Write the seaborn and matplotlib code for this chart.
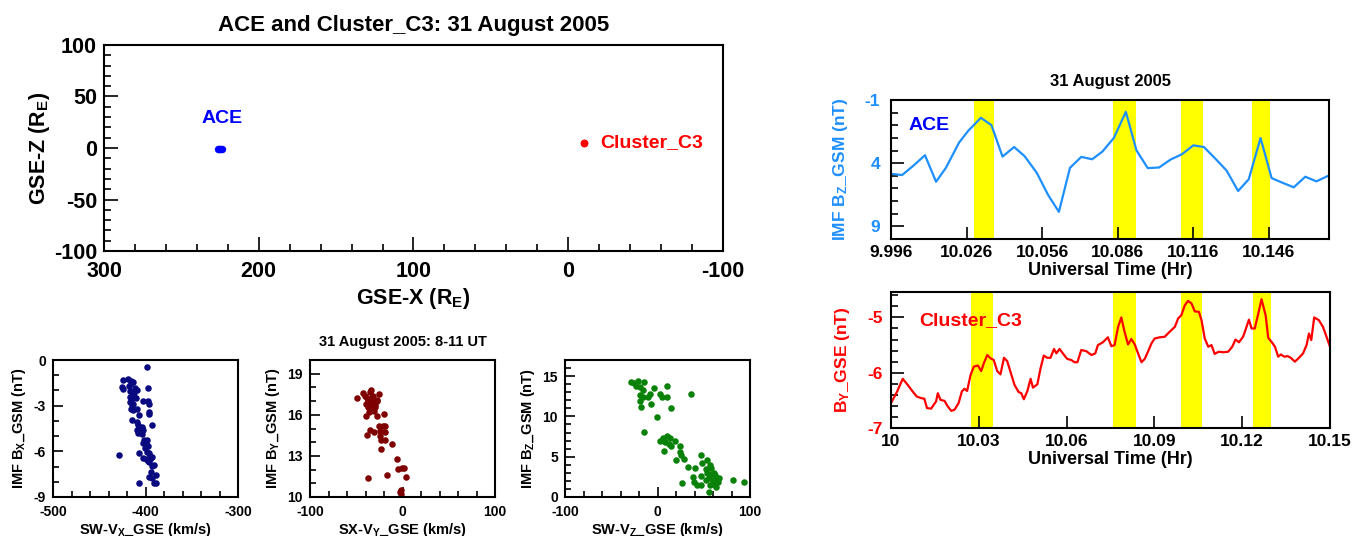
import numpy as np
import pandas as pd
import matplotlib
matplotlib.use("Agg")
import matplotlib.pyplot as plt
from matplotlib.ticker import MultipleLocator, FixedLocator, FixedFormatter
import seaborn as sns

# ---------------------------------------------------------------- data
# Spacecraft positions (GSE, Earth radii)
ace_x = [226.6, 226.0, 225.4, 224.8, 224.1, 223.5]
ace_z = [-0.9, -1.0, -1.0, -1.1, -1.1, -1.2]
c3_x = [-10.0, -10.4]
c3_z = [5.3, 5.0]

# ACE IMF Bz (GSM), 16-s samples
ace_time = [9.9960, 10.0004, 10.0050, 10.0095, 10.0139, 10.0178, 10.0231, 10.0268,
            10.0317, 10.0359, 10.0403, 10.0449, 10.0491, 10.0539, 10.0584, 10.0627,
            10.0671, 10.0716, 10.0759, 10.0800, 10.0845, 10.0893, 10.0935, 10.0980,
            10.1025, 10.1071, 10.1116, 10.1161, 10.1203, 10.1247, 10.1293, 10.1339,
            10.1381, 10.1428, 10.1472, 10.1514, 10.1560, 10.1606, 10.1650, 10.1700]
ace_bz = [4.84, 4.94, 4.18, 3.37, 5.47, 4.37, 2.35, 1.41, 0.41, 0.99,
          3.48, 2.72, 3.45, 4.76, 6.51, 7.85, 4.37, 3.50, 3.69, 3.08,
          2.01, -0.06, 2.98, 4.39, 4.34, 3.71, 3.29, 2.59, 2.72, 3.61,
          4.58, 6.20, 5.28, 2.01, 5.18, 5.54, 5.91, 5.07, 5.44, 4.97]

# Cluster C3 By (GSE)
c3_time = [10.0000, 10.0021, 10.0040, 10.0057, 10.0074, 10.0088, 10.0103, 10.0114,
           10.0123, 10.0137, 10.0146, 10.0154, 10.0160, 10.0169, 10.0183, 10.0194,
           10.0206, 10.0217, 10.0231, 10.0242, 10.0251, 10.0260, 10.0272, 10.0283,
           10.0297, 10.0308, 10.0317, 10.0329, 10.0340, 10.0351, 10.0363, 10.0374,
           10.0386, 10.0397, 10.0408, 10.0422, 10.0436, 10.0445, 10.0454, 10.0466,
           10.0477, 10.0485, 10.0500, 10.0511, 10.0522, 10.0534, 10.0545, 10.0557,
           10.0565, 10.0576, 10.0587, 10.0602, 10.0616, 10.0627, 10.0637, 10.0650,
           10.0667, 10.0685, 10.0698, 10.0707, 10.0724, 10.0741, 10.0753, 10.0764,
           10.0776, 10.0787, 10.0798, 10.0810, 10.0821, 10.0833, 10.0844, 10.0856,
           10.0867, 10.0878, 10.0890, 10.0901, 10.0918, 10.0935, 10.0952, 10.0970,
           10.0981, 10.0992, 10.1004, 10.1015, 10.1027, 10.1038, 10.1052, 10.1061,
           10.1072, 10.1084, 10.1095, 10.1106, 10.1120, 10.1135, 10.1152, 10.1166,
           10.1177, 10.1189, 10.1203, 10.1211, 10.1223, 10.1232, 10.1243, 10.1255,
           10.1266, 10.1280, 10.1289, 10.1300, 10.1312, 10.1323, 10.1332, 10.1344,
           10.1355, 10.1366, 10.1380, 10.1394, 10.1408, 10.1420, 10.1428, 10.1436,
           10.1446, 10.1462, 10.1476, 10.1488, 10.1500]
c3_by = [-6.55, -6.34, -6.11, -6.22, -6.34, -6.43, -6.46, -6.47,
         -6.64, -6.65, -6.58, -6.52, -6.37, -6.49, -6.51, -6.61,
         -6.69, -6.67, -6.55, -6.34, -6.29, -6.33, -6.04, -5.89,
         -5.87, -5.97, -5.83, -5.68, -5.74, -5.77, -5.97, -6.03,
         -5.73, -5.79, -5.98, -6.22, -6.35, -6.37, -6.48, -6.33,
         -6.11, -6.27, -6.21, -5.92, -5.69, -5.73, -5.73, -5.57,
         -5.65, -5.57, -5.65, -5.75, -5.77, -5.81, -5.81, -5.59,
         -5.61, -5.68, -5.65, -5.50, -5.45, -5.36, -5.52, -5.50,
         -5.17, -5.00, -5.26, -5.49, -5.39, -5.49, -5.65, -5.81,
         -5.75, -5.62, -5.47, -5.38, -5.36, -5.35, -5.26, -5.17,
         -5.02, -4.96, -4.78, -4.70, -4.75, -4.89, -4.90, -5.05,
         -5.38, -5.53, -5.50, -5.66, -5.62, -5.63, -5.62, -5.53,
         -5.40, -5.45, -5.35, -5.23, -5.04, -5.20, -5.20, -4.93,
         -4.67, -4.96, -5.37, -5.44, -5.53, -5.71, -5.67, -5.71,
         -5.70, -5.73, -5.80, -5.73, -5.65, -5.50, -5.29, -5.41,
         -5.00, -5.05, -5.17, -5.35, -5.53]

# highlighted intervals (start, end) in UT hours
ace_bands = [(10.0289, 10.0370), (10.0842, 10.0934), (10.1113, 10.1199), (10.1396, 10.1466)]
c3_bands = [(10.0275, 10.0347), (10.0757, 10.0837), (10.0990, 10.1064), (10.1237, 10.1297)]

# Solar wind velocity vs IMF, 8-11 UT
sw_vx = [-398.9, -424.6, -418.5, -415.9, -413.0, -425.7, -423.9, -417.4, -411.2, -409.4,
         -397.5, -416.7, -414.9, -412.3, -416.7, -413.8, -410.1, -402.9, -397.5, -396.7,
         -416.7, -414.9, -413.0, -416.0, -413.0, -408.7, -406.5, -395.7, -396.7, -414.1,
         -408.7, -407.6, -393.1, -406.5, -404.0, -408.7, -405.8, -402.9, -407.6, -404.0,
         -401.4, -398.6, -402.2, -399.3, -397.8, -400.4, -398.6, -406.5, -396.7, -428.3,
         -394.9, -393.1, -402.2, -399.3, -397.8, -395.7, -391.3, -393.1, -394.2, -388.4,
         -393.1, -395.7, -391.3, -388.4, -406.5, -416.0, -412.0, -404.0, -399.0, -397.0,
         -395.0]
imf_bx = [-0.48, -1.32, -1.27, -1.36, -1.47, -1.80, -1.91, -1.69, -1.82, -1.97,
          -1.86, -2.04, -2.26, -2.19, -2.41, -2.52, -2.52, -2.68, -2.68, -2.89,
          -2.74, -2.96, -2.92, -3.22, -3.29, -3.22, -3.62, -3.44, -3.55, -3.95,
          -4.06, -4.28, -4.28, -4.50, -4.45, -4.61, -4.71, -4.61, -4.82, -4.89,
          -5.26, -5.26, -5.42, -5.48, -5.64, -5.81, -6.03, -6.14, -6.14, -6.21,
          -6.29, -6.36, -6.47, -6.51, -6.64, -6.73, -6.91, -6.97, -7.39, -7.57,
          -7.74, -7.68, -8.05, -8.05, -8.09, -1.50, -2.40, -4.40, -5.60, -6.60,
          -6.50]

sw_vy = [-49.4, -43.2, -33.8, -34.9, -25.9, -41.0, -38.5, -33.1, -27.7, -36.7,
         -31.3, -39.6, -34.9, -29.5, -37.4, -33.1, -34.9, -31.3, -39.2, -27.7,
         -19.7, -25.1, -21.5, -18.6, -34.9, -30.6, -38.2, -24.1, -19.3, -24.1,
         -23.0, -19.3, -11.4, -23.3, -6.0, -4.9, -0.5, 1.3, -16.8, 4.2,
         -37.8, -1.3, -2.0, -3.1, -37.0, -32.0, -30.0, -36.0, -33.0, -28.0]
imf_by = [17.26, 17.58, 17.82, 17.65, 17.53, 17.34, 17.22, 17.26, 17.05, 16.97,
          16.92, 16.78, 16.73, 16.73, 16.54, 16.49, 16.37, 16.30, 15.93, 15.93,
          16.05, 15.16, 15.21, 15.16, 14.87, 14.75, 14.55, 14.79, 14.75, 14.48,
          14.19, 14.19, 13.87, 13.54, 12.78, 12.08, 12.13, 12.13, 11.60, 11.48,
          11.36, 10.48, 10.24, 10.39, 17.10, 17.40, 16.60, 16.20, 16.90, 17.00]

sw_vz = [-28.4, -25.1, -21.5, -23.0, -18.6, -14.3, -15.7, 10.3, -4.2, -19.3,
         -15.7, -10.7, -7.8, 3.1, 4.9, 10.3, 36.3, -18.6, -7.1, -17.9,
         15.0, -0.4, -15.0, 2.4, 6.0, 10.3, 14.0, 8.6, 12.2, 19.4,
         6.7, 14.6, 24.0, 24.7, 25.5, 20.4, 28.4, 32.7, 46.5, 41.0,
         48.3, 53.7, 56.6, 58.0, 52.6, 60.9, 53.7, 38.5, 46.5, 55.5,
         61.7, 66.4, 52.6, 59.8, 65.2, 39.3, 42.9, 46.5, 56.6, 60.9,
         62.8, 55.5, 26.6, 81.9, 93.5, 61.7, 57.3]
imf_bz = [14.33, 14.12, 14.41, 13.83, 13.63, 14.24, 13.30, 13.83, 13.58, 12.68,
          12.47, 12.47, 12.76, 12.80, 12.47, 12.47, 12.76, 11.86, 11.53, 11.12,
          11.03, 9.92, 8.07, 6.92, 7.33, 7.62, 7.33, 6.84, 6.59, 6.92,
          5.68, 6.30, 6.30, 5.60, 5.27, 4.53, 4.74, 3.71, 5.15, 3.63,
          4.16, 4.53, 3.95, 3.63, 3.42, 3.00, 3.00, 2.51, 2.60, 2.39,
          2.31, 2.39, 2.06, 1.98, 1.90, 1.90, 1.44, 1.49, 1.49, 1.57,
          1.24, 0.62, 1.77, 2.10, 1.90, 2.72, 2.80]

ace_time_ticks = [9.996, 10.026, 10.056, 10.086, 10.116, 10.146]
c3_time_ticks = [10.0, 10.03, 10.06, 10.09, 10.12, 10.15]
c3_time_labels = ["10", "10.03", "10.06", "10.09", "10.12", "10.15"]

# ---------------------------------------------------------------- style
sns.set_theme(style="ticks")
plt.rcParams.update({
    "font.family": ["Liberation Sans", "DejaVu Sans"],
    "font.weight": "bold",
    "axes.labelweight": "bold",
    "axes.titleweight": "bold",
    "axes.unicode_minus": False,
    "mathtext.fontset": "custom",
    "mathtext.rm": "Liberation Sans:bold",
    "mathtext.bf": "Liberation Sans:bold",
    "mathtext.it": "Liberation Sans:bold",
    "mathtext.default": "bf",
    "axes.edgecolor": "black",
    "axes.linewidth": 1.5,
    "xtick.color": "black",
    "ytick.color": "black",
    "xtick.direction": "in",
    "ytick.direction": "in",
    "axes.labelcolor": "black",
    "text.color": "black",
})

W, H = 1368, 536
fig = plt.figure(figsize=(W / 100, H / 100), dpi=100)


def add_ax(left, top, right, bottom):
    return fig.add_axes([left / W, 1 - bottom / H, (right - left) / W, (bottom - top) / H])


def style(ax, size, major, minor, xpad=4, ypad=4):
    ax.tick_params(which="both", direction="in", top=False, right=False,
                   width=1.2, labelsize=size)
    ax.tick_params(axis="x", which="both", pad=xpad)
    ax.tick_params(axis="y", which="both", pad=ypad)
    ax.tick_params(which="major", length=major)
    ax.tick_params(which="minor", length=minor)
    for sp in ax.spines.values():
        sp.set_linewidth(1.5)
        sp.set_color("black")


# ---------------------------------------------------------------- positions panel
ax = add_ax(104, 45, 723, 251)
pos_ace = pd.DataFrame({"x": ace_x, "z": ace_z})
pos_c3 = pd.DataFrame({"x": c3_x, "z": c3_z})
sns.scatterplot(data=pos_ace, x="x", y="z", color="#0000ff", s=28, linewidth=0, ax=ax)
sns.scatterplot(data=pos_c3, x="x", y="z", color="#ff0000", s=30, linewidth=0, ax=ax)
ax.set_xlim(300, -100)
ax.set_ylim(-100, 100)
ax.xaxis.set_major_locator(MultipleLocator(100))
ax.xaxis.set_minor_locator(MultipleLocator(20))
ax.yaxis.set_major_locator(MultipleLocator(50))
ax.yaxis.set_minor_locator(MultipleLocator(10))
style(ax, 15.5, 10, 5, xpad=7, ypad=5)
ax.set_xlabel(r"GSE-X (R$_E$)", fontsize=15.5, labelpad=3)
ax.set_ylabel(r"GSE-Z (R$_E$)", fontsize=15.5, labelpad=1)
ax.set_title("ACE and Cluster_C3: 31 August 2005", fontsize=16, pad=10)
ax.text(224, 29, "ACE", color="#0000ff", fontsize=14, ha="center", va="center")
ax.text(-21, 5, "Cluster_C3", color="#ff0000", fontsize=14, ha="left", va="center")

# ---------------------------------------------------------------- scatter panels
scatter_specs = [
    (53, sw_vx, imf_bx, "#0a0a80", (-500, -300), (-9, 0), 100, 3,
     r"SW-V$_X$_GSE (km/s)", r"IMF B$_X$_GSM (nT)"),
    (310, sw_vy, imf_by, "#7f0000", (-100, 100), (10, 20), 100, 3,
     r"SX-V$_Y$_GSE (km/s)", r"IMF B$_Y$_GSM (nT)"),
    (565, sw_vz, imf_bz, "#0a820a", (-100, 100), (0, 17), 100, 5,
     r"SW-V$_Z$_GSE (km/s)", r"IMF B$_Z$_GSM (nT)"),
]
for i, (left, vx, by, col, xl, yl, xmaj, ymaj, xlab, ylab) in enumerate(scatter_specs):
    sax = add_ax(left, 360, left + 185, 497)
    df = pd.DataFrame({"v": vx, "b": by})
    sns.scatterplot(data=df, x="v", y="b", color=col, s=22, linewidth=0, ax=sax)
    sax.set_xlim(*xl)
    sax.set_ylim(*yl)
    sax.xaxis.set_major_locator(MultipleLocator(xmaj))
    sax.xaxis.set_minor_locator(MultipleLocator(20))
    if i == 1:
        sax.yaxis.set_major_locator(FixedLocator([10, 13, 16, 19]))
    else:
        sax.yaxis.set_major_locator(MultipleLocator(ymaj))
    sax.yaxis.set_minor_locator(MultipleLocator(1))
    style(sax, 10, 7, 4, xpad=6, ypad=5)
    sax.set_xlabel(xlab, fontsize=10.5, labelpad=1)
    sax.set_ylabel(ylab, fontsize=10.5, labelpad=4)
    if i == 1:
        sax.set_title("31 August 2005: 8-11 UT", fontsize=10.5, pad=10)

# ---------------------------------------------------------------- ACE time series
tax = add_ax(891, 100, 1329, 239)
for a, b in ace_bands:
    tax.axvspan(a, b, color="#ffff00", lw=0, zorder=0)
sns.lineplot(x=ace_time, y=ace_bz, sort=False, estimator=None, color="#1e8fff",
             lw=1.6, ax=tax)
tax.set_xlim(9.996, 10.170)
tax.set_ylim(10, -1)
tax.xaxis.set_major_locator(FixedLocator(ace_time_ticks))
tax.xaxis.set_major_formatter(FixedFormatter([f"{t:.3f}" for t in ace_time_ticks]))
tax.yaxis.set_major_locator(FixedLocator([-1, 4, 9]))
tax.yaxis.set_minor_locator(MultipleLocator(1))
style(tax, 12.5, 9, 5, xpad=4, ypad=8)
tax.tick_params(axis="y", labelcolor="#1e8fff")
tax.set_xlabel("Universal Time (Hr)", fontsize=13, labelpad=2)
tax.set_ylabel(r"IMF B$_Z$_GSM (nT)", fontsize=12.5, color="#1e8fff", labelpad=10)
tax.set_title("31 August 2005", fontsize=12, pad=10)
tax.text(0.04, 0.82, "ACE", transform=tax.transAxes, color="#0000ff", fontsize=14,
         ha="left", va="center")

# ---------------------------------------------------------------- Cluster time series
bax = add_ax(891, 292, 1330, 428)
for a, b in c3_bands:
    bax.axvspan(a, b, color="#ffff00", lw=0, zorder=0)
sns.lineplot(x=c3_time, y=c3_by, sort=False, estimator=None, color="#ff0000",
             lw=1.6, ax=bax)
bax.set_xlim(10.0, 10.15)
bax.set_ylim(-7, -4.54)
bax.xaxis.set_major_locator(FixedLocator(c3_time_ticks))
bax.xaxis.set_major_formatter(FixedFormatter(c3_time_labels))
bax.yaxis.set_major_locator(FixedLocator([-7, -6, -5]))
bax.yaxis.set_minor_locator(MultipleLocator(0.2))
style(bax, 12.5, 9, 5, xpad=4, ypad=6)
bax.tick_params(axis="y", labelcolor="#ff0000")
bax.set_xlabel("Universal Time (Hr)", fontsize=13, labelpad=2)
bax.set_ylabel(r"B$_Y$_GSE (nT)", fontsize=12.5, color="#ff0000", labelpad=11)
bax.text(0.065, 0.79, "Cluster_C3", transform=bax.transAxes, color="#ff0000",
         fontsize=14, ha="left", va="center")

fig.savefig("out.png", dpi=100)
